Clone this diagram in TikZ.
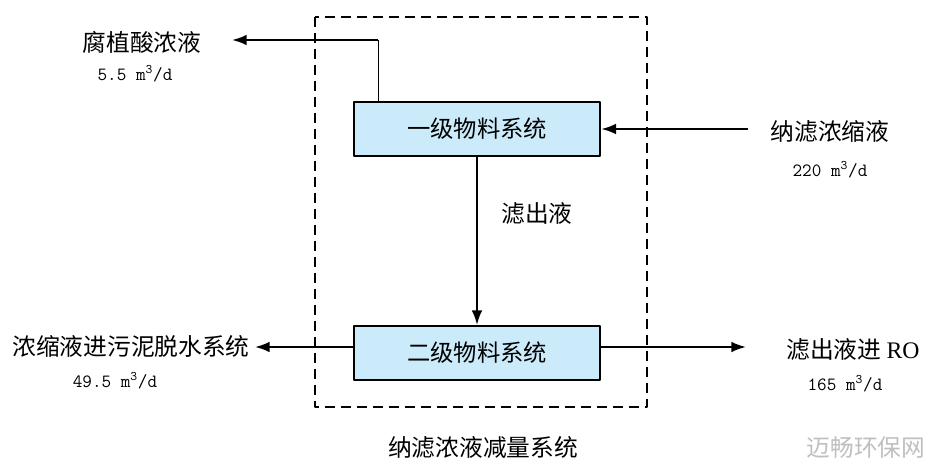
\documentclass[tikz,border=0pt]{standalone}
\usepackage{fontspec}
\setmainfont{Liberation Serif}
\newfontfamily\cjk{Noto Sans CJK SC}
\usetikzlibrary{positioning,arrows.meta}
\definecolor{boxblue}{HTML}{CCEBFA}
\tikzset{
  unitbox/.style={draw,line width=1.5pt,fill=boxblue,minimum width=185pt,minimum height=40.5pt,inner sep=0pt,font=\cjk\fontsize{17.5}{20}\selectfont},
  zh/.style={font=\cjk\fontsize{17.8}{20}\selectfont,inner sep=0pt},
  rate/.style={font=\ttfamily\fontsize{14}{16}\selectfont,inner sep=0pt},
  flow/.style={->,line width=1.5pt}
}
\begin{document}
\begin{tikzpicture}[>={Latex[length=11pt,width=8pt]}, x=0.75pt, y=-0.75pt, line join=round]
	\useasboundingbox (0,0) rectangle (929,466);
	% outer system
	\draw[line width=1.1pt,dash pattern=on 7.5pt off 4.5pt] (315,17) rectangle (647,407);
	\node[zh] (sys) at (483,447) {纳滤浓液减量系统};
	% units
	\node[unitbox] (s1) at (477,129) {一级物料系统};
	\node[unitbox] (s2) at (477,353) {二级物料系统};
	% streams
	\node[zh] (feed) at (830,132) {纳滤浓缩液};
	\node[rate] (feedq) at (830,170) {220 m\textsuperscript{3}/d};
	\node[zh] (hum) at (142,42) {腐植酸浓液};
	\node[rate] (humq) at (135,74) {5.5 m\textsuperscript{3}/d};
	\node[zh] (sld) at (131,346) {浓缩液进污泥脱水系统};
	\node[rate] (sldq) at (115,381) {49.5 m\textsuperscript{3}/d};
	\node[zh] (ro) at (853,350) {滤出液进 \textrm{RO}};
	\node[rate] (roq) at (845,384) {165 m\textsuperscript{3}/d};
	\node[zh] (mid) at (537,214) {滤出液};
	\coordinate (feedin) at (748,129);
	\coordinate (up) at (378,40);
	\coordinate (humout) at (232,40);
	\coordinate (sldout) at (255,347);
	\coordinate (roout) at (746,347);
	\draw[flow] (feedin) -- (s1.east |- feedin);
	\draw[line width=0.6pt] (s1.north -| up) -- (up);
	\draw[flow] (up) -- (humout);
	\draw[flow] (s1) -- (s2);
	\draw[flow] (s2.west |- sldout) -- (sldout);
	\draw[flow] (s2.east |- roout) -- (roout);
	% mark
	\node[zh,text=black!25] (wm) at (866,448) {迈畅环保网};
\end{tikzpicture}
\end{document}
